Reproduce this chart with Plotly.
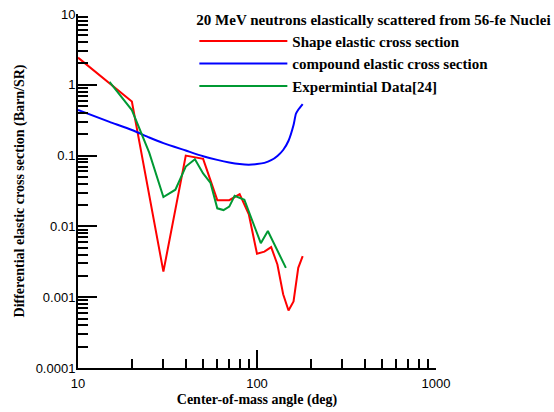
import plotly.graph_objects as go

# Shape elastic cross section (red)
shape_angle = [10, 20, 30, 40, 50, 55, 60, 70, 80, 90, 100, 110, 120, 130, 140, 150, 160, 170, 180]
shape_xs = [2.42, 0.58, 0.0023, 0.10, 0.09, 0.045, 0.0235, 0.0235, 0.0285, 0.0148, 0.0041, 0.0044, 0.0051, 0.0029, 0.0011, 0.00065, 0.00087, 0.0026, 0.0038]

# Compound elastic cross section (blue)
comp_angle = [10, 15, 20, 25, 30, 40, 50, 60, 70, 80, 90, 100, 110, 120, 130, 140, 150, 160, 165, 170, 180]
comp_xs = [0.44, 0.30, 0.23, 0.18, 0.15, 0.118, 0.098, 0.087, 0.080, 0.076, 0.0745, 0.076, 0.079, 0.086, 0.099, 0.12, 0.162, 0.27, 0.39, 0.445, 0.535]

# Experimental data [24] (green)
exp_angle = [15, 20, 25, 30, 35, 40, 45, 50, 55, 60, 65, 70, 75, 85, 105, 115, 145]
exp_xs = [1.1, 0.44, 0.11, 0.026, 0.033, 0.07, 0.089, 0.056, 0.041, 0.018, 0.017, 0.019, 0.027, 0.0237, 0.0058, 0.0086, 0.0026]

y_tickvals = [0.0001, 0.001, 0.01, 0.1, 1, 10]
y_ticktext = ["0.0001", "0.001", "0.01", "0.1", "1", "10"]
x_tickvals = [10, 100, 1000]
x_ticktext = ["10", "100", "1000"]

serif_bold = dict(family="Liberation Serif", size=14, color="black", weight="bold")
legend_font = dict(family="Liberation Serif", size=15, color="black", weight="bold")
tick_font = dict(family="Liberation Sans", size=13, color="black")

fig = go.Figure()
fig.add_trace(go.Scatter(x=shape_angle, y=shape_xs, mode="lines", name="Shape elastic cross section",
                         line=dict(color="#ff0000", width=2)))
fig.add_trace(go.Scatter(x=comp_angle, y=comp_xs, mode="lines", name="compound elastic cross section",
                         line=dict(color="#0000ff", width=2, shape="spline", smoothing=0.6)))
fig.add_trace(go.Scatter(x=exp_angle, y=exp_xs, mode="lines", name="Expermintial Data[24]",
                         line=dict(color="#009933", width=2)))

fig.update_layout(
    width=554, height=412,
    margin=dict(l=78, r=118, t=14, b=44, autoexpand=False),
    paper_bgcolor="white", plot_bgcolor="white",
    showlegend=True,
    legend=dict(
        title=dict(text="20 MeV neutrons elastically scattered from 56-fe Nuclei", font=legend_font),
        font=legend_font,
        x=0.325, y=1.025, xanchor="left", yanchor="top",
        bgcolor="rgba(0,0,0,0)", borderwidth=0,
        itemwidth=88,
    ),
    xaxis=dict(
        type="log", range=[1, 3],
        showline=True, linecolor="black", linewidth=2,
        ticks="inside", ticklen=18, tickwidth=2, tickcolor="black",
        tickvals=x_tickvals, ticktext=x_ticktext, tickfont=tick_font,
        showgrid=False, zeroline=False,
        minor=dict(ticks="inside", ticklen=9, tickwidth=2, tickcolor="black", dtick="D1", showgrid=False),
        ticklabelstandoff=2,
        title=dict(text="Center-of-mass angle (deg)", font=serif_bold, standoff=5),
    ),
    yaxis=dict(
        type="log", range=[-4, 1],
        showline=True, linecolor="black", linewidth=2,
        ticks="inside", ticklen=19, tickwidth=2, tickcolor="black",
        tickvals=y_tickvals, ticktext=y_ticktext, tickfont=tick_font,
        showgrid=False, zeroline=False,
        minor=dict(ticks="inside", ticklen=10, tickwidth=2, tickcolor="black", dtick="D1", showgrid=False),
        ticklabelstandoff=-2,
        title=dict(text="Differential elastic cross section (Barn/SR)", font=serif_bold, standoff=8),
    ),
)

fig.write_html("out.html")
